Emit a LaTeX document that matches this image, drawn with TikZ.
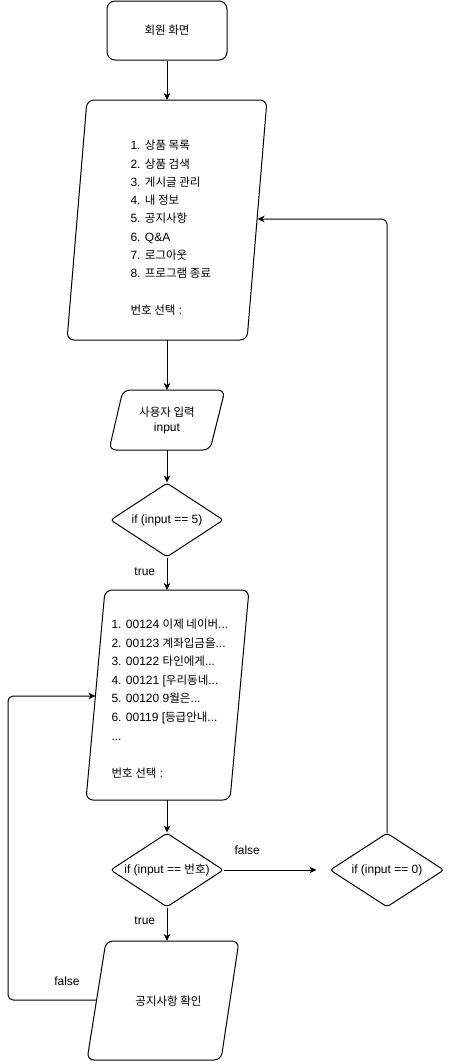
\documentclass[tikz,border=0pt]{standalone}
\usepackage{fontspec}
\setmainfont{Liberation Sans}
\newfontfamily\kr[Scale=0.96]{Noto Sans CJK KR}
\usetikzlibrary{arrows.meta,shapes.geometric}
\begin{document}
\begin{tikzpicture}[x=1pt,y=-1pt, line width=1pt,
  every node/.style={font=\fontsize{12}{18.3}\selectfont},
  arr/.style={-{Stealth[length=7pt,width=6.5pt,inset=2pt]}},
  para/.style={draw, rounded corners=7pt, line width=1pt},
  dec/.style={draw, diamond, aspect=1.5, inner sep=0pt, minimum width=113pt, minimum height=74pt, rounded corners=3pt},
  lbl/.style={font=\fontsize{12}{14}\selectfont},
  txt/.style={inner sep=0pt, align=left, anchor=west}]

\useasboundingbox (0,0) rectangle (449,1061);

% start
\node[draw, rounded corners=8pt, minimum width=120pt, minimum height=59pt] (start) at (167,30.5) {{\kr 회원 화면}};

% menu
\draw[para] (87,100) -- (267,100) -- (247,340) -- (67,340) -- cycle;
\node[txt] (menu) at (130,227.8) {1. {\kr 상품 목록}\\2. {\kr 상품 검색}\\3. {\kr 게시글 관리}\\4. {\kr 내 정보}\\5. {\kr 공지사항}\\6. Q\&A\\7. {\kr 로그아웃}\\8. {\kr 프로그램 종료}\\[18.3pt]{\kr 번호 선택} :};
\coordinate (menuT) at (167,100);
\coordinate (menuB) at (167,340);
\coordinate (menuR) at (257.5,219);

% input
\draw[para] (123,390) -- (225,390) -- (210,450) -- (109,450) -- cycle;
\node[inner sep=0pt, align=center, font=\fontsize{12}{15}\selectfont] (inp) at (167,420.5) {{\kr 사용자 입력}\\input};
\coordinate (inT) at (167,390);
\coordinate (inB) at (167,450);

% decision 1
\node[dec] (d1) at (167,520) {if (input == 5)};

% list
\draw[para] (105,590) -- (249,590) -- (230,800) -- (86,800) -- cycle;
\node[txt, font=\fontsize{12}{18.6}\selectfont] (list) at (111,698.5) {1. 00124 {\kr 이제 네이버}...\\2. 00123 {\kr 계좌입금을}...\\3. 00122 {\kr 타인에게}...\\4. 00121 [{\kr 우리동네}...\\5. 00120 9{\kr 월은}...\\6. 00119 [{\kr 등급안내}...\\...\\[18.6pt]{\kr 번호 선택} :};
\coordinate (listT) at (167,590);
\coordinate (listB) at (167,800);
\coordinate (listL) at (95.4,696);

% decisions 2, 3
\node[dec] (d2) at (167,870) {if (input == {\kr 번호})};
\node[dec, minimum width=114pt] (d3) at (387,870) {if (input == 0)};

% result
\draw[para] (106,941) -- (239,941) -- (221,1060) -- (87,1060) -- cycle;
\node[inner sep=0pt] (res) at (168.5,1001) {{\kr 공지사항 확인}};
\coordinate (resT) at (167,941);
\coordinate (resL) at (96.4,1000);
\coordinate (lp1) at (8,1000);
\coordinate (lp2) at (8,696);

% connectors
\draw[arr] (start.south) -- (menuT);
\draw[arr] (menuB) -- (inT);
\draw[arr] (inB) -- (d1.north);
\draw[arr] (d1.south) -- (listT) node[lbl, pos=0.45, left=8pt] {true};
\draw[arr] (listB) -- (d2.north);
\draw[arr, shorten >=13pt] (d2.east) -- (d3.west) node[lbl, pos=0.22, above=12pt] {false};
\draw[arr] (d2.south) -- (resT) node[lbl, pos=0.38, left=8pt] {true};
\draw[arr, rounded corners=5pt] (d3.north) |- (menuR);
\draw[arr, rounded corners=5pt] (resL) -- (lp1) -- (lp2) -- (listL);
\node[lbl] (flab) at (67,981) {false};
\end{tikzpicture}
\end{document}
